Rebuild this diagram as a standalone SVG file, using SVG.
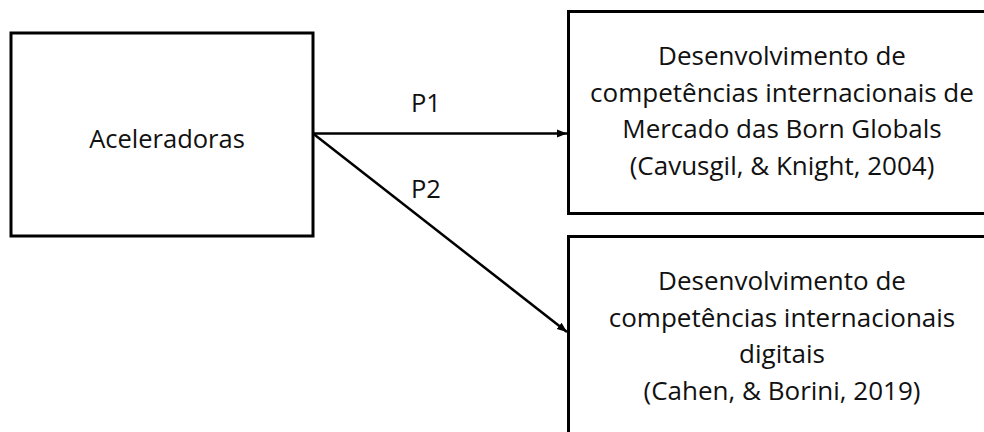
<svg xmlns="http://www.w3.org/2000/svg" width="984" height="432" viewBox="0 0 984 432">
<style>
.box{fill:#fff;stroke:#000;stroke-width:3}
.t{font-family:"Open Sans","Noto Sans",sans-serif;font-size:25.5px;fill:#111;text-anchor:middle}
.r{font-size:26px}
.c{stroke:#000;stroke-width:2.5;fill:none}
</style>
<defs>
<marker id="ah" viewBox="0 0 10 10" refX="10" refY="5" markerWidth="4" markerHeight="4" orient="auto" markerUnits="strokeWidth">
<path d="M0,1 L10,5 L0,9 z" fill="#000"/>
</marker>
</defs>
<rect width="984" height="432" fill="#fff"/>
<g id="aceleradoras">
<rect class="box" x="11" y="33" width="302" height="203"/>
<text class="t" x="167" y="148">Aceleradoras</text>
</g>
<g id="born-globals">
<rect class="box" x="568.5" y="11.5" width="430" height="202"/>
<text class="t r" x="782" y="65">Desenvolvimento de</text>
<text class="t r" x="782" y="101.5">competências internacionais de</text>
<text class="t r" x="782" y="138">Mercado das Born Globals</text>
<text class="t r" x="782" y="175">(Cavusgil, &amp; Knight, 2004)</text>
</g>
<g id="digitais">
<rect class="box" x="568.5" y="236.5" width="430" height="210"/>
<text class="t r" x="782" y="290">Desenvolvimento de</text>
<text class="t r" x="782" y="327">competências internacionais</text>
<text class="t r" x="782" y="363">digitais</text>
<text class="t r" x="782" y="400">(Cahen, &amp; Borini, 2019)</text>
</g>
<g id="connectors">
<line class="c" x1="313" y1="133.5" x2="567" y2="133.5" marker-end="url(#ah)"/>
<line class="c" x1="313" y1="133.5" x2="567" y2="332" marker-end="url(#ah)"/>
<text class="t" x="426" y="112">P1</text>
<text class="t" x="426" y="198">P2</text>
</g>
</svg>
